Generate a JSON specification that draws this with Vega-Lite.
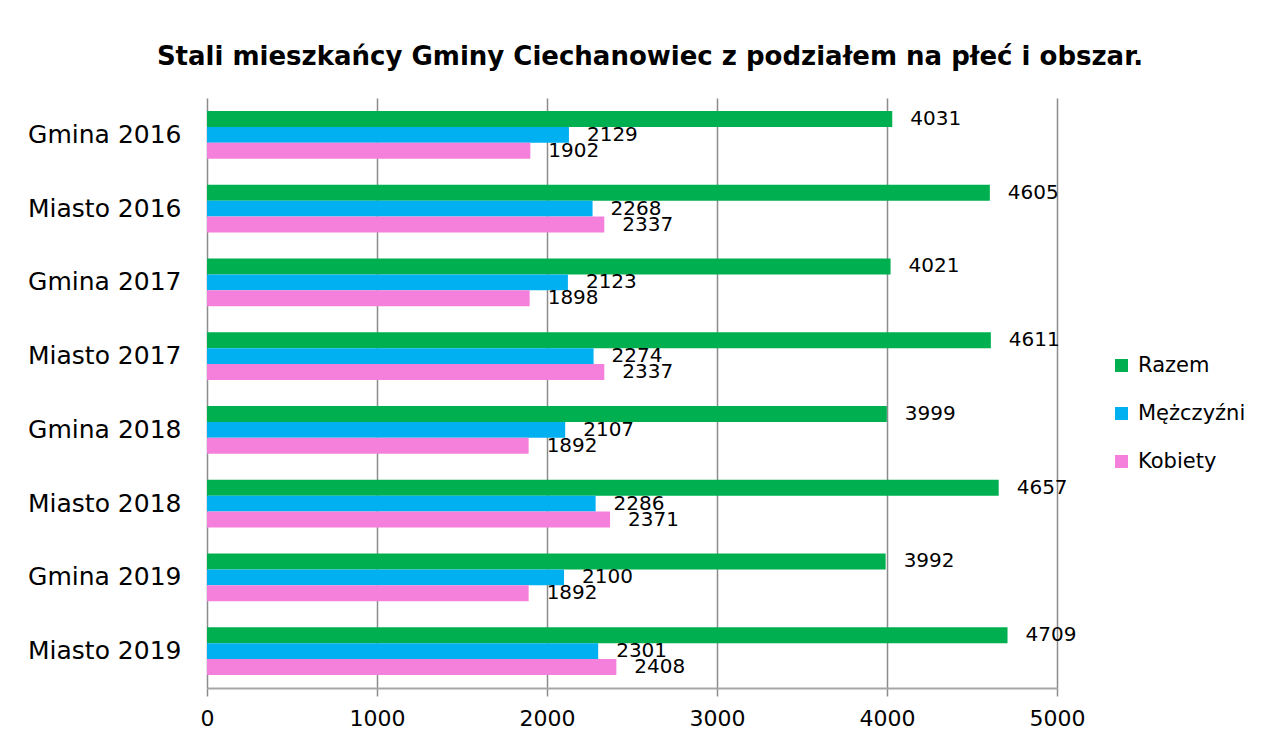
{
  "$schema": "https://vega.github.io/schema/vega-lite/v6.json",
  "autosize": {"type": "none"},
  "width": 850,
  "height": 590,
  "padding": {"left": 207, "top": 98, "right": 223, "bottom": 56},
  "background": "white",
  "title": {
    "text": "Stali mieszkańcy Gminy Ciechanowiec z podziałem na płeć i obszar.",
    "font": "DejaVu Sans",
    "fontSize": 26,
    "fontWeight": "bold",
    "color": "#000000",
    "anchor": "middle",
    "frame": "group",
    "dx": 18,
    "offset": 28
  },
  "data": {
    "values": [
      {"kategoria": "Gmina 2016", "seria": "Razem", "wartosc": 4031},
      {"kategoria": "Gmina 2016", "seria": "Mężczyźni", "wartosc": 2129},
      {"kategoria": "Gmina 2016", "seria": "Kobiety", "wartosc": 1902},
      {"kategoria": "Miasto 2016", "seria": "Razem", "wartosc": 4605},
      {"kategoria": "Miasto 2016", "seria": "Mężczyźni", "wartosc": 2268},
      {"kategoria": "Miasto 2016", "seria": "Kobiety", "wartosc": 2337},
      {"kategoria": "Gmina 2017", "seria": "Razem", "wartosc": 4021},
      {"kategoria": "Gmina 2017", "seria": "Mężczyźni", "wartosc": 2123},
      {"kategoria": "Gmina 2017", "seria": "Kobiety", "wartosc": 1898},
      {"kategoria": "Miasto 2017", "seria": "Razem", "wartosc": 4611},
      {"kategoria": "Miasto 2017", "seria": "Mężczyźni", "wartosc": 2274},
      {"kategoria": "Miasto 2017", "seria": "Kobiety", "wartosc": 2337},
      {"kategoria": "Gmina 2018", "seria": "Razem", "wartosc": 3999},
      {"kategoria": "Gmina 2018", "seria": "Mężczyźni", "wartosc": 2107},
      {"kategoria": "Gmina 2018", "seria": "Kobiety", "wartosc": 1892},
      {"kategoria": "Miasto 2018", "seria": "Razem", "wartosc": 4657},
      {"kategoria": "Miasto 2018", "seria": "Mężczyźni", "wartosc": 2286},
      {"kategoria": "Miasto 2018", "seria": "Kobiety", "wartosc": 2371},
      {"kategoria": "Gmina 2019", "seria": "Razem", "wartosc": 3992},
      {"kategoria": "Gmina 2019", "seria": "Mężczyźni", "wartosc": 2100},
      {"kategoria": "Gmina 2019", "seria": "Kobiety", "wartosc": 1892},
      {"kategoria": "Miasto 2019", "seria": "Razem", "wartosc": 4709},
      {"kategoria": "Miasto 2019", "seria": "Mężczyźni", "wartosc": 2301},
      {"kategoria": "Miasto 2019", "seria": "Kobiety", "wartosc": 2408}
    ]
  },
  "encoding": {
    "y": {
      "field": "kategoria",
      "type": "nominal",
      "sort": ["Gmina 2016", "Miasto 2016", "Gmina 2017", "Miasto 2017", "Gmina 2018", "Miasto 2018", "Gmina 2019", "Miasto 2019"],
      "scale": {"paddingInner": 0.35, "paddingOuter": 0.175},
      "axis": {
        "title": null,
        "domain": false,
        "ticks": false,
        "grid": false,
        "labelPadding": 26,
        "labelFont": "DejaVu Sans",
        "labelFontSize": 25,
        "labelColor": "#000000"
      }
    },
    "yOffset": {
      "field": "seria",
      "type": "nominal",
      "sort": ["Razem", "Mężczyźni", "Kobiety"],
      "scale": {"paddingInner": 0, "paddingOuter": 0}
    },
    "x": {
      "field": "wartosc",
      "type": "quantitative",
      "scale": {"domain": [0, 5000], "nice": false},
      "axis": {
        "title": null,
        "values": [0, 1000, 2000, 3000, 4000, 5000],
        "format": "d",
        "grid": true,
        "gridColor": "#8c8c8c",
        "gridWidth": 1.5,
        "domainColor": "#a6a6a6",
        "domainWidth": 2,
        "tickColor": "#8c8c8c",
        "tickWidth": 1.5,
        "tickSize": 8,
        "labelPadding": 12,
        "labelFont": "DejaVu Sans",
        "labelFontSize": 22,
        "labelColor": "#000000",
        "labelFlush": false
      }
    }
  },
  "layer": [
    {
      "mark": {"type": "bar"},
      "encoding": {
        "color": {
          "field": "seria",
          "type": "nominal",
          "sort": ["Razem", "Mężczyźni", "Kobiety"],
          "scale": {"domain": ["Razem", "Mężczyźni", "Kobiety"], "range": ["#00B050", "#00B0F0", "#F580DC"]},
          "legend": {
            "title": null,
            "orient": "none",
            "legendX": 904,
            "legendY": 257,
            "symbolType": "square",
            "symbolSize": 169,
            "symbolStrokeWidth": 0,
            "labelFont": "DejaVu Sans",
            "labelFontSize": 21,
            "labelColor": "#000000",
            "labelOffset": 6,
            "rowPadding": 26
          }
        }
      }
    },
    {
      "mark": {"type": "text", "align": "left", "baseline": "middle", "dx": 18, "font": "DejaVu Sans", "fontSize": 20, "color": "#000000"},
      "encoding": {
        "text": {"field": "wartosc", "type": "quantitative"}
      }
    }
  ],
  "config": {
    "view": {"stroke": null}
  }
}
